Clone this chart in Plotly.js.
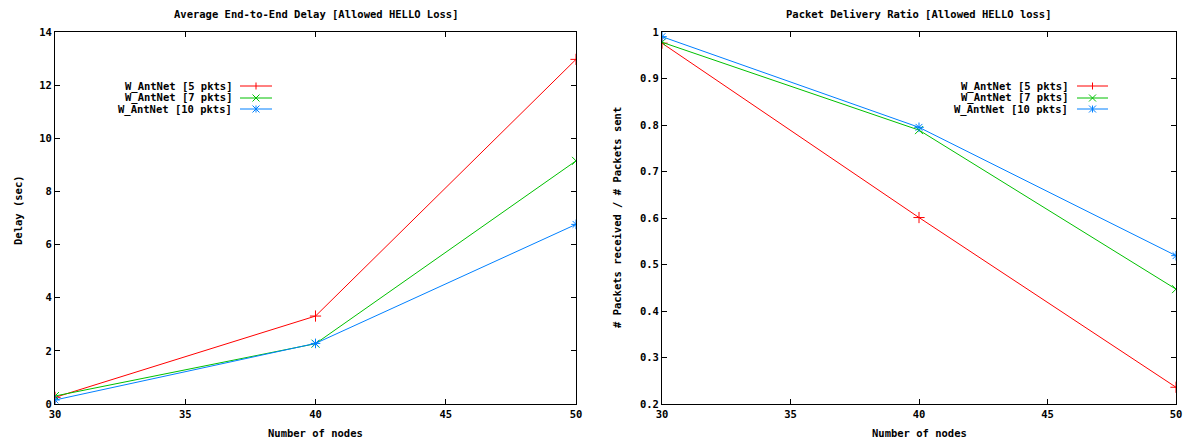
<!DOCTYPE html>
<html>
<head>
<meta charset="utf-8">
<script src="https://cdn.plot.ly/plotly-3.0.1.min.js"></script>
<style>html,body{margin:0;padding:0;background:#fff;}#chart{width:1192px;height:444px;}</style>
</head>
<body>
<div id="chart"></div>
<script>
// ---- data ----
const nodes = [30, 40, 50];
const delay5 = [0.25, 3.31, 12.97];
const delay7 = [0.30, 2.27, 9.15];
const delay10 = [0.15, 2.28, 6.76];
const pdr5 = [0.976, 0.601, 0.236];
const pdr7 = [0.978, 0.789, 0.447];
const pdr10 = [0.990, 0.795, 0.519];
const seriesNames = ['W_AntNet [5 pkts]', 'W_AntNet [7 pkts]', 'W_AntNet [10 pkts]'];
const xTicks = [30, 35, 40, 45, 50];
const delayTicks = [0, 2, 4, 6, 8, 10, 12, 14];
const pdrTicks = [0.2, 0.3, 0.4, 0.5, 0.6, 0.7, 0.8, 0.9, 1];
const leftTitle = 'Average End-to-End Delay [Allowed HELLO Loss]';
const rightTitle = 'Packet Delivery Ratio [Allowed HELLO loss]';
const xTitle = 'Number of nodes';
const leftYTitle = 'Delay (sec)';
const rightYTitle = '# Packets received / # Packets sent';

// ---- styling ----
const colors = ['#ff0000', '#00c000', '#0080ff'];
const symbols = ['cross-thin-open', 'x-thin-open', 'asterisk-open'];
const FONT = 'DejaVu Sans Mono, monospace';
const W = 1192, H = 444;
const leftPx = [55, 576], rightPx = [662, 1176], yPx = [32, 404];

function mkTrace(y, i, xa, ya, show) {
  return {
    x: nodes, y: y, type: 'scatter', mode: 'lines+markers',
    name: seriesNames[i], xaxis: xa, yaxis: ya, showlegend: false,
    line: {color: colors[i], width: 1},
    marker: {symbol: symbols[i], size: 8, color: colors[i], line: {color: colors[i], width: 1}}
  };
}
const delaySeries = [delay5, delay7, delay10];
const pdrSeries = [pdr5, pdr7, pdr10];
const data = [];
delaySeries.forEach((s, i) => data.push(mkTrace(s, i, 'x', 'y')));
pdrSeries.forEach((s, i) => data.push(mkTrace(s, i, 'x2', 'y2')));

const tickFont = {family: FONT, size: 10.5, color: '#000', weight: 'bold'};
function xAxis(dom, anchor) {
  return {domain: dom, anchor: anchor, range: [30, 50], tickvals: xTicks,
    ticks: 'inside', ticklen: 5, tickcolor: '#000', mirror: 'ticks', showline: true,
    linecolor: '#000', linewidth: 1, showgrid: false, zeroline: false, tickfont: tickFont,
    fixedrange: true};
}
function yAxis(range, ticks, anchor) {
  return {domain: [1 - yPx[1] / H, 1 - yPx[0] / H], anchor: anchor, range: range, tickvals: ticks,
    ticks: 'inside', ticklen: 5, tickcolor: '#000', mirror: 'ticks', showline: true,
    linecolor: '#000', linewidth: 1, showgrid: false, zeroline: false, tickfont: tickFont,
    fixedrange: true};
}

const annFont = {family: FONT, size: 10.5, color: '#000', weight: 'bold'};
const annotations = [];
const shapes = [];
function txt(text, xpx, ypx, opts) {
  annotations.push(Object.assign({text: text, xref: 'paper', yref: 'paper', x: xpx / W, y: 1 - ypx / H,
    showarrow: false, font: annFont, xanchor: 'center', yanchor: 'middle'}, opts || {}));
}
txt(leftTitle, (leftPx[0] + leftPx[1]) / 2, 14);
txt(rightTitle, (rightPx[0] + rightPx[1]) / 2, 14);
txt(xTitle, (leftPx[0] + leftPx[1]) / 2, 433);
txt(xTitle, (rightPx[0] + rightPx[1]) / 2, 433);
txt(leftYTitle, 18, 210, {textangle: -90});
txt(rightYTitle, 617, 218, {textangle: -90});

// custom gnuplot-style keys (text left of sample line)
function key(domPx, textRight, lineL, lineR, rowsPx) {
  rowsPx.forEach((ry, i) => {
    txt(seriesNames[i], textRight, ry, {xanchor: 'right'});
    const ly = 1 - ry / H;
    shapes.push({type: 'line', xref: 'paper', yref: 'paper', x0: lineL / W, x1: lineR / W, y0: ly, y1: ly,
      line: {color: colors[i], width: 1}});
    const cx = (lineL + lineR) / 2, d = 3.5;
    const segs = [];
    if (i === 0 || i === 2) segs.push([cx, ry - d, cx, ry + d]);
    if (i === 1 || i === 2) { segs.push([cx - d, ry - d, cx + d, ry + d]); segs.push([cx - d, ry + d, cx + d, ry - d]); }
    segs.forEach(s => shapes.push({type: 'line', xref: 'paper', yref: 'paper',
      x0: s[0] / W, y0: 1 - s[1] / H, x1: s[2] / W, y1: 1 - s[3] / H, line: {color: colors[i], width: 1}}));
  });
}
key(leftPx, 234, 240, 272, [86, 98, 109]);
key(rightPx, 1070, 1077, 1108, [86, 98, 109]);

const layout = {
  width: W, height: H, margin: {l: 0, r: 0, t: 0, b: 0},
  paper_bgcolor: '#fff', plot_bgcolor: '#fff', showlegend: false,
  font: {family: FONT, size: 10.5, color: '#000'},
  xaxis: xAxis([leftPx[0] / W, leftPx[1] / W], 'y'),
  yaxis: yAxis([0, 14], delayTicks, 'x'),
  xaxis2: xAxis([rightPx[0] / W, rightPx[1] / W], 'y2'),
  yaxis2: yAxis([0.2, 1], pdrTicks, 'x2'),
  annotations: annotations, shapes: shapes
};
Plotly.newPlot('chart', data, layout, {displayModeBar: false, staticPlot: true});
</script>
</body>
</html>
